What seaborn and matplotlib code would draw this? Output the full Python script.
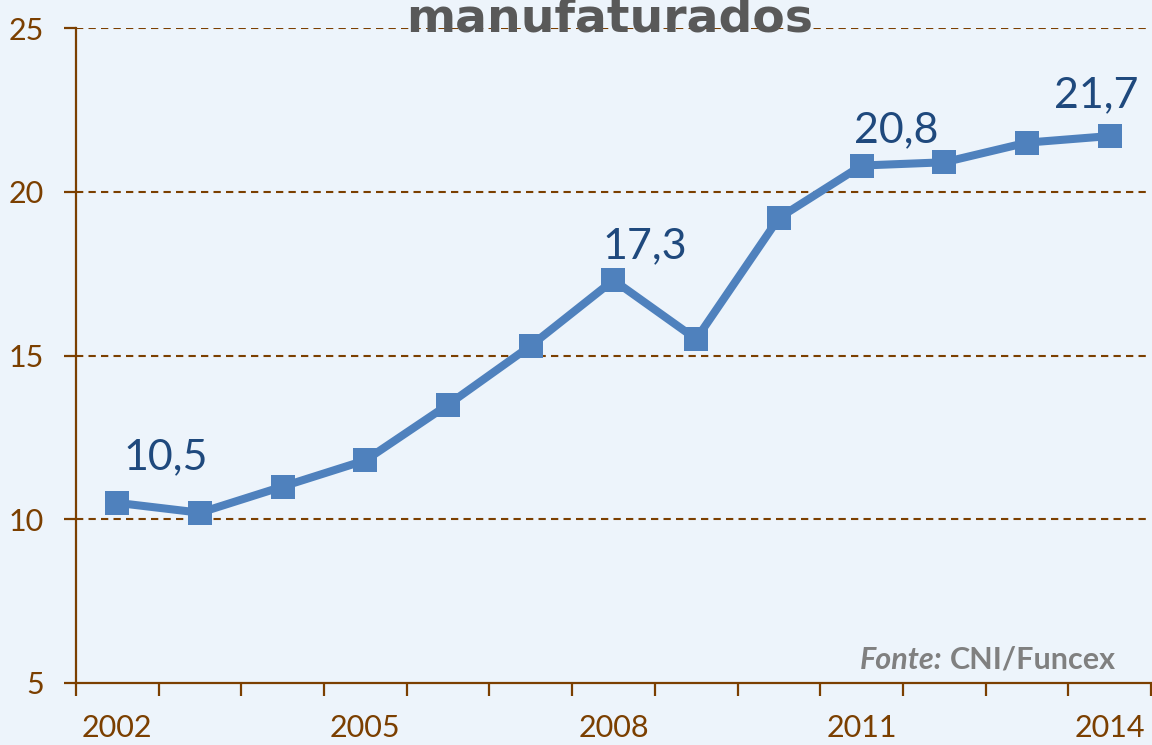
import numpy as np
import pandas as pd
import matplotlib
matplotlib.use("Agg")
import matplotlib.pyplot as plt
import seaborn as sns

# data
years = [2002, 2003, 2004, 2005, 2006, 2007, 2008, 2009, 2010, 2011, 2012, 2013, 2014]
values = [10.5, 10.2, 11.0, 11.8, 13.5, 15.3, 17.3, 15.5, 19.2, 20.8, 20.9, 21.5, 21.7]
label_years = [2002, 2008, 2011, 2014]
label_offsets = [(48, 46), (31, 34), (35, 35), (-13, 41)]  # pixels
tick_years = [2002, 2005, 2008, 2011, 2014]
y_ticks = [5, 10, 15, 20, 25]

BG = "#EDF4FB"
BROWN = "#7B3F00"
LINE = "#4F81BD"
LABEL = "#1F497D"

sns.set_theme(style="white")
plt.rcParams["font.family"] = ["Lato", "DejaVu Sans"]

df = pd.DataFrame({"ano": years, "valor": values})

fig = plt.figure(figsize=(11.52, 7.45), dpi=100, facecolor=BG)
ax = fig.add_axes([76 / 1152, 1 - 683 / 745, 1075 / 1152, 655 / 745])
ax.set_facecolor(BG)

sns.lineplot(data=df, x="ano", y="valor", ax=ax, color=LINE, linewidth=5.8,
             marker="s", markersize=17, markeredgewidth=0, zorder=3)

ax.set_xlim(2001.5, 2014.5)
ax.set_ylim(5, 25)

# gridlines
for y in y_ticks[1:]:
    ax.axhline(y, color=BROWN, linestyle=(0, (3.5, 2.5)), linewidth=1.5, zorder=1)

# spines
for s in ["top", "right"]:
    ax.spines[s].set_visible(False)
for s in ["left", "bottom"]:
    ax.spines[s].set_color(BROWN)
    ax.spines[s].set_linewidth(1.6)

# y axis
ax.set_yticks(y_ticks)
ax.tick_params(axis="y", direction="out", length=9, width=1.6, color=BROWN,
               labelcolor=BROWN, labelsize=22, pad=14, left=True)

# x axis: ticks between categories, labels every 3 years
ax.set_xticks(tick_years)
ax.set_xticklabels([str(t) for t in tick_years])
ax.set_xticks(np.arange(2001.5, 2015, 1.0), minor=True)
ax.tick_params(axis="x", which="major", length=0, labelcolor=BROWN, labelsize=22, pad=22)
ax.tick_params(axis="x", which="minor", direction="out", length=9, width=1.6,
               color=BROWN, bottom=True)
ax.set_xlabel("")
ax.set_ylabel("")

# data labels
for yr, off in zip(label_years, label_offsets):
    v = values[years.index(yr)]
    ax.annotate(f"{v:.1f}".replace(".", ","), xy=(yr, v), xytext=(off[0] * 0.72, off[1] * 0.72),
                textcoords="offset points", ha="center", va="center",
                fontsize=31, color=LABEL, zorder=4)

# cut-off title
fig.text(0.529, 1 - 31 / 745, "manufaturados", ha="center", va="baseline",
         fontsize=34, fontweight="heavy", color="#595959", family="DejaVu Sans")

# source
src = ax.annotate("CNI/Funcex", xy=(1116 / 1152, 1 - 660 / 745), xycoords="figure fraction",
                  ha="right", va="center", fontsize=22, color="#808080", fontweight="bold")
fig.canvas.draw()
bb = src.get_window_extent()
fig.text(bb.x0 - 8, (bb.y0 + bb.y1) / 2, "Fonte:", transform=None, ha="right", va="center",
         fontsize=22, color="#808080", fontweight="bold", fontstyle="italic")

fig.savefig("out.png", dpi=100, facecolor=BG)
